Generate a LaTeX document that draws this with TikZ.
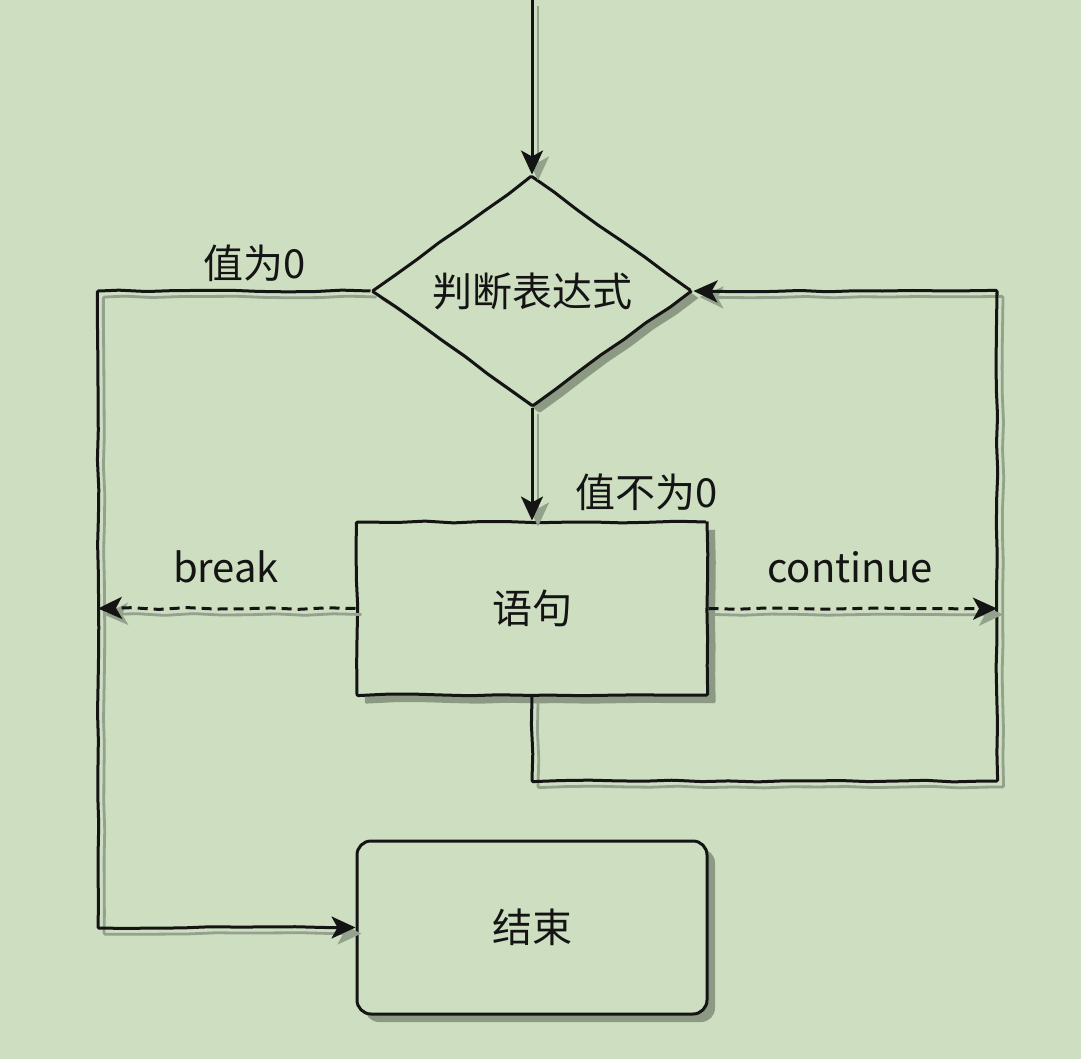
\documentclass[tikz,border=0pt]{standalone}
\usepackage{fontspec}
\setmainfont{Noto Sans CJK SC}
\usetikzlibrary{positioning, shapes.geometric, shadows, arrows.meta, decorations.pathmorphing}

\definecolor{paper}{RGB}{206,222,193}
\definecolor{boxshade}{RGB}{140,154,132}
\definecolor{lineshade}{RGB}{146,162,140}
\definecolor{ink}{RGB}{20,20,20}

\pgfmathsetseed{7}

\tikzset{
  sketch/.style={decorate, decoration={random steps, segment length=14pt, amplitude=0.45pt}, rounded corners=0.6pt},
  txt/.style={font=\fontsize{20}{24}\selectfont, text=ink},
  box/.style={rectangle, draw=ink, line width=1.5pt, fill=paper, txt,
    minimum width=175pt, minimum height=86.5pt, inner sep=0pt,
    drop shadow={shadow xshift=4pt, shadow yshift=-4pt, fill=boxshade, opacity=1}},
  block/.style={box, sketch},
  term/.style={box, rounded corners=7pt},
  decision/.style={diamond, draw=ink, line width=1.5pt, fill=paper, txt, sketch,
    minimum width=160pt, minimum height=115pt, inner sep=0pt, aspect=1.39,
    drop shadow={shadow xshift=3.5pt, shadow yshift=-3.5pt, fill=boxshade, opacity=1}},
  flow/.style={draw=ink, line width=1.5pt, -{Stealth[length=12pt, width=11pt, inset=3pt]},
    preaction={draw=lineshade, line width=1.4pt, transform canvas={shift={(3pt,-3pt)}}}},
  jump/.style={flow, dashed, dash pattern=on 5pt off 3pt},
  lbl/.style={txt, inner sep=0pt}
}

\begin{document}
\begin{tikzpicture}[x=0.5pt, y=-0.5pt]

    % Canvas
    \fill[paper] (0,0) rectangle (1081,1059);
    \useasboundingbox (0,0) rectangle (1081,1059);

    % Define nodes
    \node[decision]                      (cond) at (532,291) {判断表达式};
    \node[block, below=56.5pt of cond]   (body) {语句};
    \node[term, below=71.5pt of body]    (stop) {结束};

    % Rails and entry
    \coordinate (entry)  at (532,0);
    \coordinate (lrail)  at (98,291);
    \coordinate (rrail)  at (997,781);

    % Labels
    \node[lbl] (zero)    at (255,263) {值为0};
    \node[lbl] (nonzero) at (647,492) {值不为0};
    \node[lbl] (brk)     at (226,567) {break};
    \node[lbl] (cont)    at (850,567) {continue};

    % Connect the nodes
    \draw[flow] (entry) -- (cond.north);
    \draw[flow] (cond.south) -- (body.north);
    \draw[flow, sketch] (cond.west) -- (lrail) |- (stop.west);
    \draw[flow, sketch] (body.south) |- (rrail) |- (cond.east);

    % break / continue
    \draw[jump, sketch] (body.west) -- (body.west -| lrail);
    \draw[jump, sketch] (body.east) -- (body.east -| rrail);

\end{tikzpicture}
\end{document}
